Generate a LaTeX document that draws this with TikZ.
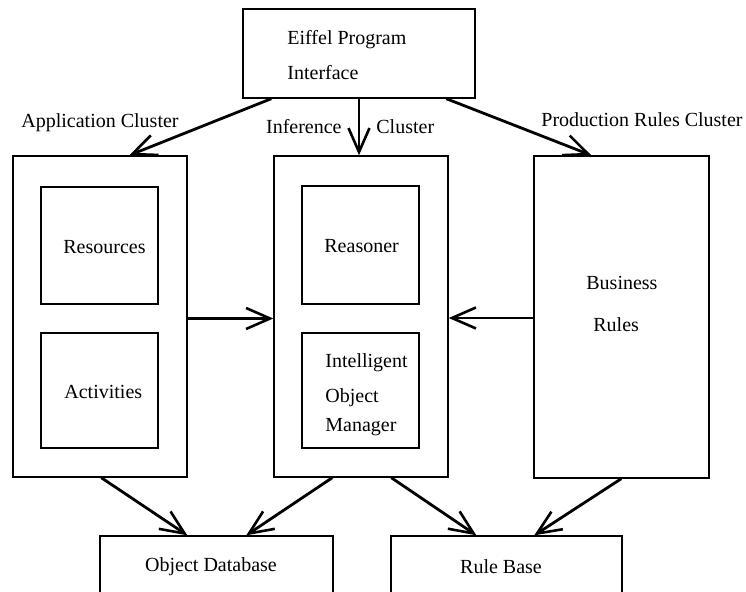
\documentclass[tikz,border=0pt]{standalone}
\usepackage{fontspec}
\setmainfont{Liberation Serif}
\usetikzlibrary{arrows.meta,fit,calc}

\tikzset{
  box/.style={draw, line width=0.7pt, inner sep=0pt},
  lbl/.style={inner sep=0pt, font=\fontsize{10}{12}\selectfont},
  arr/.style={line width=1.4pt, -{Straight Barb[length=12pt,width=10.5pt,line width=1.3pt]}},
}

\begin{document}
\begin{tikzpicture}[x=0.5pt,y=-0.5pt]
  \useasboundingbox (0,0) rectangle (746,592);
  \clip (0,0) rectangle (746,592);

  % top interface box
  \node[box, fit={(243,9) (475,98)}] (top) {};
  \node[lbl, anchor=west] (topA) at (287,40) {Eiffel Program};
  \node[lbl, anchor=west] (topB) at (287,73) {Interface};

  % the three clusters
  \node[box, fit={(13,156) (187,477)}] (app) {};
  \node[box, fit={(41,187) (158,304)}] (res) {};
  \node[box, fit={(41,333) (158,448)}] (act) {};
  \node[lbl, anchor=west] (resT) at (63,247) {Resources};
  \node[lbl, anchor=west] (actT) at (64,392) {Activities};

  \node[box, fit={(274,156) (448,477)}] (inf) {};
  \node[box, fit={(302,186) (419,304)}] (rea) {};
  \node[box, fit={(302,333) (419,448)}] (iom) {};
  \node[lbl, anchor=west] (reaT) at (324,246) {Reasoner};
  \node[lbl, anchor=west] (iomA) at (325,363) {Intelligent};
  \node[lbl, anchor=west] (iomB) at (325,398) {Object};
  \node[lbl, anchor=west] (iomC) at (325,427) {Manager};

  \node[box, fit={(534,156) (709,478)}] (bus) {};
  \node[lbl, anchor=west] (busA) at (586,283) {Business};
  \node[lbl, anchor=west] (busB) at (593,325) {Rules};

  % cluster captions
  \node[lbl] (appL) at (100,123) {Application Cluster};
  \node[lbl, anchor=east] (infL) at (342,127) {Inference};
  \node[lbl, anchor=west] (infR) at (376,127) {Cluster};
  \node[lbl] (busL) at (642,120) {Production Rules Cluster};

  % storage boxes, running off the lower edge
  \node[box, fit={(100,536) (333,620)}] (odb) {};
  \node[box, fit={(391,536) (622,620)}] (rb) {};
  \node[lbl] (odbT) at (211,567) {Object Database};
  \node[lbl] (rbT) at (501,567) {Rule Base};

  % connectors from the interface
  \draw[arr] ($(top.south west)+(29,0)$) -- ($(app.north west)+(117,0)$);
  \draw[arr] (top.south) -- (top.south |- inf.north);
  \draw[arr] ($(top.south west)+(204,0)$) -- ($(bus.north west)+(58,0)$);

  % connectors into the inference cluster
  \draw[arr] ($(app.east)+(0,2)$) -- ($(app.east -| inf.west)+(0,2)$);
  \draw[arr] ($(bus.west)+(0,1)$) -- ($(bus.west -| inf.east)+(0,1)$);

  % connectors to storage
  \draw[arr] ($(app.south west)+(89,0)$) -- ($(odb.north west)+(88,0)$);
  \draw[arr] ($(inf.south west)+(59,0)$) -- ($(odb.north west)+(147,0)$);
  \draw[arr] ($(inf.south west)+(118,0)$) -- ($(rb.north west)+(86,0)$);
  \draw[arr] ($(bus.south west)+(88,0)$) -- ($(rb.north west)+(144,0)$);
\end{tikzpicture}
\end{document}
